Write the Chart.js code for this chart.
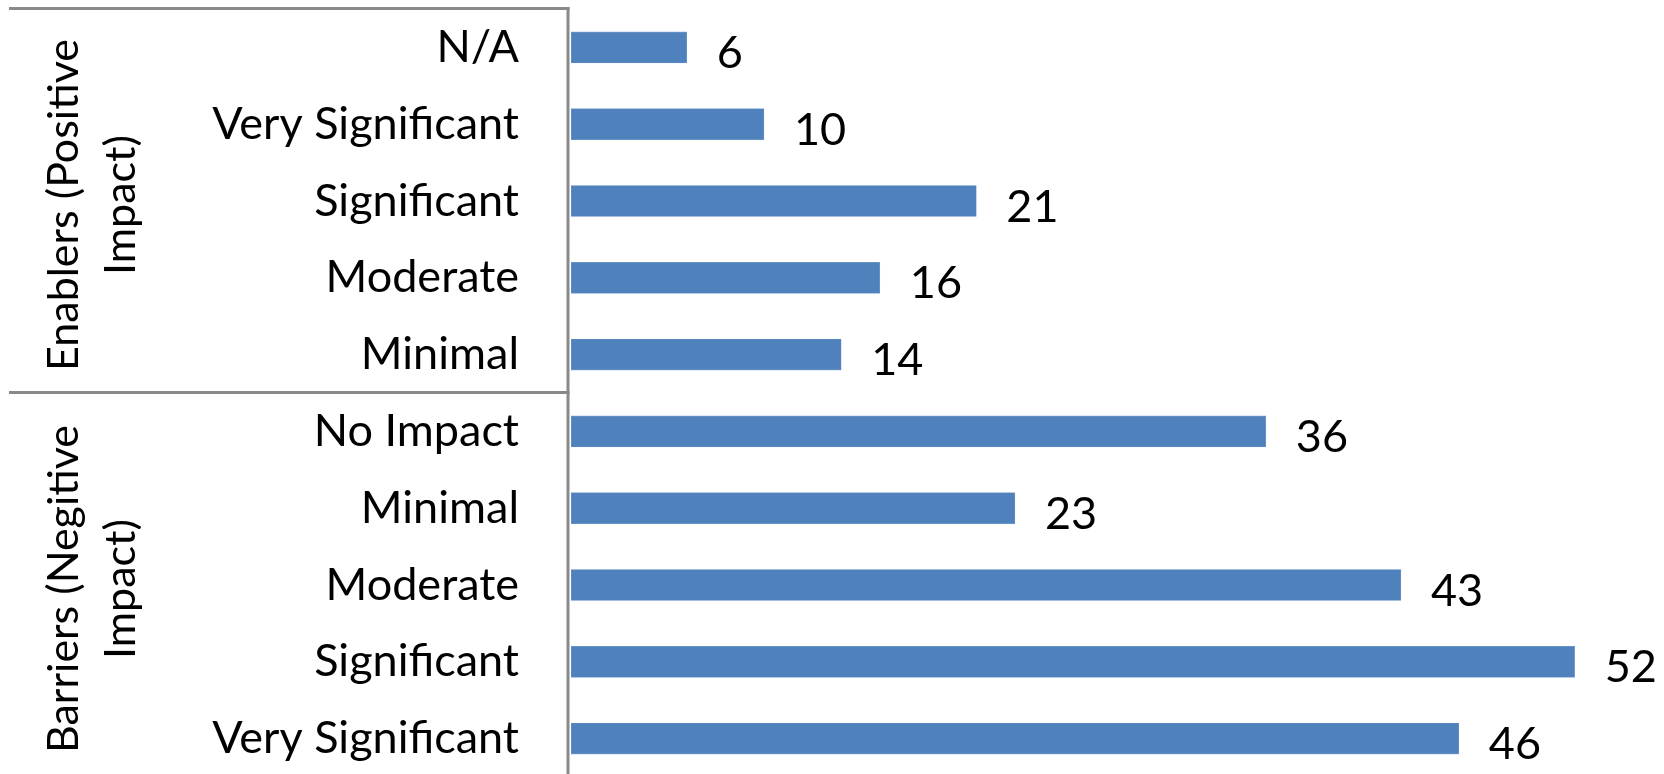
<!DOCTYPE html>
<html>
<head>
<meta charset="utf-8">
<script src="https://cdn.jsdelivr.net/npm/chart.js@4.4.0/dist/chart.umd.min.js"></script>
<style>
  html, body { margin: 0; padding: 0; background: #ffffff; overflow: hidden; }
  #wrap { width: 1664px; height: 778px; }
</style>
</head>
<body>
<div id="wrap"><canvas id="impactChart" width="1664" height="778"></canvas></div>
<script>
// categories top to bottom
const categories = ["N/A", "Very Significant", "Significant", "Moderate", "Minimal",
                    "No Impact", "Minimal", "Moderate", "Significant", "Very Significant"];
const counts = [6, 10, 21, 16, 14, 36, 23, 43, 52, 46];

// outer group labels (two lines each) and how many categories each covers
const groupLines = [["Enablers (Positive", "Impact)"], ["Barriers (Negitive", "Impact)"]];
const groupSizes = [5, 5];

const FONT = "Lato, 'Open Sans', sans-serif";
const FONT_SIZE = 45;
const GROUP_FONT_SIZE = 43;
const AXIS_GREY = "#898989";
const BAR_BLUE = "#4F81BD";

// draws group dividers, the axis line, group names and the value labels
const groupAxisPlugin = {
    id: "groupAxis",
    afterDraw(chart) {
        const ctx = chart.ctx;
        const yScale = chart.scales.y;
        const area = chart.chartArea;
        const band = (yScale.bottom - yScale.top) / categories.length;
        const axisX = area.left - 3;

        ctx.save();

        // horizontal dividers at the top of each group
        ctx.strokeStyle = AXIS_GREY;
        ctx.lineWidth = 3;
        let start = 0;
        groupSizes.forEach(size => {
            const y = yScale.getPixelForValue(start) - band / 2 - 0.5;
            ctx.beginPath();
            ctx.moveTo(9, y);
            ctx.lineTo(axisX + 1.5, y);
            ctx.stroke();
            start += size;
        });

        // vertical category axis line
        ctx.beginPath();
        ctx.moveTo(axisX, area.top - 2);
        ctx.lineTo(axisX, chart.height);
        ctx.stroke();

        // rotated group names
        ctx.fillStyle = "#000000";
        ctx.font = GROUP_FONT_SIZE + "px " + FONT;
        ctx.textAlign = "center";
        ctx.textBaseline = "alphabetic";
        start = 0;
        groupSizes.forEach((size, g) => {
            const top = yScale.getPixelForValue(start) - band / 2;
            const bottom = yScale.getPixelForValue(start + size - 1) + band / 2;
            const cy = (top + bottom) / 2 + 4;
            ctx.save();
            ctx.translate(78, cy);
            ctx.rotate(-Math.PI / 2);
            groupLines[g].forEach((line, i) => ctx.fillText(line, 0, i * 57));
            ctx.restore();
            start += size;
        });

        // value labels to the right of each bar
        ctx.font = FONT_SIZE + "px " + FONT;
        ctx.textAlign = "left";
        ctx.textBaseline = "middle";
        const meta = chart.getDatasetMeta(0);
        meta.data.forEach((bar, i) => {
            ctx.fillText(String(counts[i]), bar.x + 30, bar.y + 6);
        });

        ctx.restore();
    }
};

new Chart(document.getElementById("impactChart"), {
    type: "bar",
    data: {
        labels: categories,
        datasets: [{
            data: counts,
            backgroundColor: BAR_BLUE,
            borderColor: "#7FA3CF",
            borderWidth: 0.6,
            borderSkipped: false,
            barThickness: 31
        }]
    },
    options: {
        indexAxis: "y",
        responsive: false,
        animation: false,
        events: [],
        layout: { padding: { top: 9, bottom: 1, left: 0, right: 0 } },
        plugins: {
            legend: { display: false },
            tooltip: { enabled: false }
        },
        scales: {
            x: { display: false, min: 0, max: 56.63 },
            y: {
                grid: { display: false, drawTicks: false },
                border: { display: false },
                ticks: {
                    color: "#000000",
                    autoSkip: false,
                    padding: 52,
                    font: { family: FONT, size: FONT_SIZE }
                },
                afterFit(scale) {
                    scale.width = 571;
                    // labels sit inside their bands, no extra room above/below
                    scale.paddingTop = 0;
                    scale.paddingBottom = 0;
                }
            }
        }
    },
    plugins: [groupAxisPlugin]
});
</script>
</body>
</html>
